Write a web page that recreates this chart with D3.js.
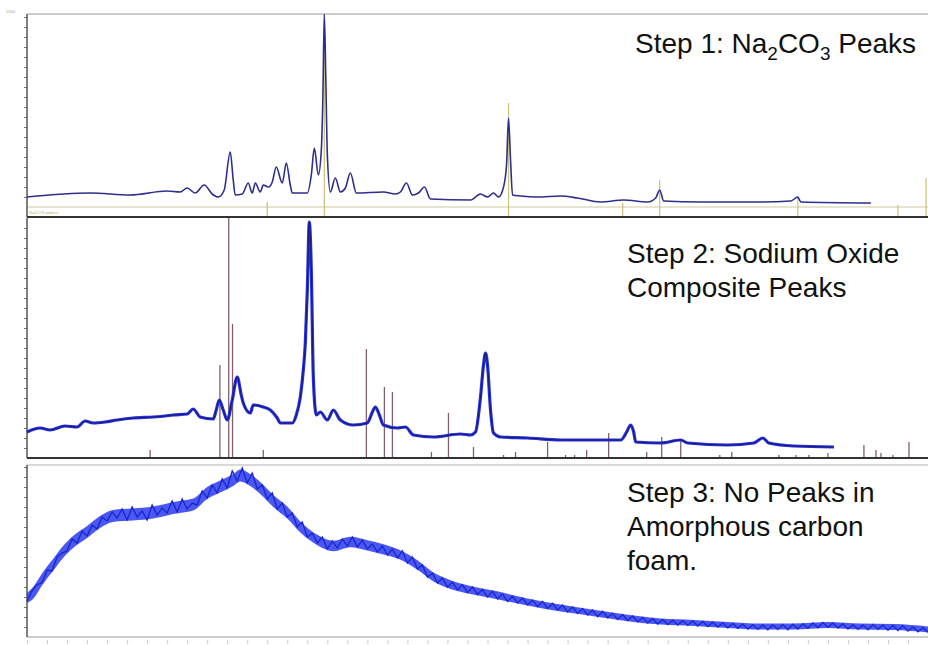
<!DOCTYPE html>
<html>
<head>
<meta charset="utf-8">
<script src="https://cdn.jsdelivr.net/npm/d3@7"></script>
<style>
  body { margin: 0; background: #fff; }
  svg { display: block; font-family: 'Liberation Sans', Arial, sans-serif; }
</style>
</head>
<body>
<div id="app"></div>
<script>
// 2-theta range of the scans (deg)
const thetaRange = [10, 100];

// Step 1 scan: [2theta, counts]
const step1Scan = [
  [10.0, 50], [16.3, 70], [20.3, 60], [24.0, 80], [25.3, 75], [26.0, 95], [26.8, 70], [27.7, 110],
  [28.5, 65], [29.1, 50], [29.7, 85], [30.3, 275], [30.6, 135], [30.8, 60], [31.5, 65], [32.1, 120],
  [32.5, 70], [32.8, 120], [33.3, 75], [33.6, 110], [34.1, 100], [34.5, 125], [34.9, 200], [35.5, 120],
  [35.9, 220], [36.3, 110], [36.5, 70], [38.0, 70], [38.4, 160], [38.7, 295], [39.1, 160], [39.4, 285],
  [39.55, 535], [39.7, 965], [39.85, 635], [40.0, 260], [40.3, 75], [40.8, 145], [41.3, 75], [41.8, 95],
  [42.3, 170], [42.9, 70], [45.6, 75], [46.8, 65], [47.3, 75], [47.9, 120], [48.5, 60], [49.1, 70],
  [49.7, 100], [50.3, 40], [54.3, 35], [55.3, 65], [56.0, 50], [56.6, 70], [57.1, 50], [57.6, 100],
  [57.9, 210], [58.1, 445], [58.3, 235], [58.5, 60], [59.3, 55], [61.0, 50], [63.3, 55], [65.0, 45],
  [67.3, 25], [69.6, 35], [72.0, 25], [72.8, 45], [73.2, 85], [73.6, 30], [77.3, 25], [83.3, 25],
  [86.3, 30], [87.0, 50], [87.3, 25], [94.3, 20]
];

// Step 1 reference pattern (Na2CO3): [2theta, counts]
const step1Ref = [
  [34.0, 25], [39.7, 965], [58.1, 520], [69.5, 20], [73.2, 135], [87.0, 50], [97.0, 10], [99.8, 145]
];

// Step 2 scan: [2theta, counts]
const step2Scan = [
  [10.0, 130], [11.3, 150], [12.3, 140], [13.8, 160], [15.0, 155], [15.8, 185], [16.6, 175], [17.8, 180],
  [19.0, 190], [20.6, 200], [22.6, 205], [23.8, 210], [24.6, 215], [26.0, 220], [26.6, 245], [27.3, 205],
  [28.6, 195], [28.9, 240], [29.2, 290], [29.6, 240], [30.0, 190], [30.5, 290], [31.0, 405], [31.4, 315],
  [31.6, 275], [32.3, 225], [32.6, 265], [33.6, 255], [34.3, 240], [35.0, 200], [35.3, 175], [36.5, 175],
  [36.9, 215], [37.3, 305], [37.6, 440], [37.8, 575], [38.0, 840], [38.2, 1180], [38.4, 940], [38.6, 405],
  [38.9, 215], [39.3, 230], [40.0, 190], [40.6, 240], [41.3, 190], [42.6, 165], [44.0, 175], [44.5, 230],
  [44.8, 255], [45.2, 215], [45.6, 165], [47.0, 150], [47.8, 155], [48.6, 115], [50.6, 105], [53.3, 120],
  [54.3, 115], [54.8, 130], [55.3, 305], [55.6, 465], [55.8, 525], [56.0, 465], [56.3, 240], [56.6, 125],
  [57.3, 105], [60.0, 100], [63.3, 90], [67.3, 90], [69.3, 90], [69.9, 130], [70.3, 165], [70.6, 130],
  [70.8, 80], [73.3, 75], [75.3, 90], [76.0, 75], [80.0, 65], [82.6, 75], [83.5, 100], [84.1, 75],
  [86.6, 60], [90.6, 55]
];

// Step 2 reference sticks (sodium oxide phases): [2theta, counts]
const step2Ref = [
  [22.3, 40], [29.27, 465], [30.15, 1200], [30.53, 670], [33.6, 40], [43.9, 545], [45.7, 355], [46.5, 330],
  [50.4, 30], [52.1, 225], [54.6, 55], [57.6, 15], [58.8, 30], [62.0, 80], [63.8, 15], [64.7, 15],
  [65.9, 40], [68.1, 125], [71.9, 30], [73.4, 105], [75.3, 90], [79.2, 15], [80.4, 30], [85.1, 15],
  [86.8, 15], [88.1, 15], [90.0, 25], [93.6, 65], [94.8, 40], [95.3, 25], [96.5, 15], [98.1, 80]
];

// Step 3 scan envelope: [2theta, counts, noise half-width]
const step3Scan = [
  [10.0, 195, 25], [10.6, 220, 30], [11.6, 295, 30], [12.6, 360, 30], [13.6, 425, 30], [14.6, 475, 30],
  [16.0, 525, 30], [17.3, 575, 30], [18.6, 605, 30], [20.6, 612, 30], [22.6, 622, 30], [24.6, 645, 30],
  [26.6, 662, 30], [28.0, 720, 30], [29.3, 752, 30], [30.6, 785, 30], [31.3, 808, 30], [32.3, 785, 30],
  [33.3, 745, 30], [34.6, 680, 30], [36.0, 622, 30], [37.3, 550, 28], [39.0, 485, 26], [40.6, 455, 26],
  [42.3, 475, 26], [44.0, 458, 26], [45.6, 438, 26], [47.3, 410, 24], [49.0, 360, 24], [50.6, 300, 22],
  [52.3, 262, 22], [54.3, 235, 20], [56.6, 212, 20], [60.0, 175, 18], [63.3, 145, 18], [66.6, 120, 16],
  [70.0, 95, 16], [73.3, 77, 15], [76.6, 70, 15], [80.0, 60, 15], [83.3, 52, 15], [86.6, 52, 15],
  [90.0, 60, 15], [93.3, 52, 15], [96.6, 50, 15], [100.0, 38, 15]
];

// Step 3 raw trace, read every half degree: [2theta, counts]
const step3Trace = [
  [10, 180], [10.5, 230], [11, 262], [11.5, 270], [12, 335], [12.5, 330], [13, 400], [13.5, 420],
  [14, 430], [14.5, 490], [15, 470], [15.5, 530], [16, 505], [16.5, 560], [17, 540], [17.5, 600],
  [18, 580], [18.5, 625], [19, 595], [19.5, 640], [20, 585], [20.5, 650], [21, 600], [21.5, 630],
  [22, 585], [22.5, 660], [23, 610], [23.5, 645], [24, 620], [24.5, 680], [25, 625], [25.5, 690],
  [26, 640], [26.5, 670], [27, 660], [27.5, 730], [28, 695], [28.5, 760], [29, 720], [29.5, 790],
  [30, 745], [30.5, 830], [31, 780], [31.5, 845], [32, 770], [32.5, 820], [33, 740], [33.5, 760],
  [34, 690], [34.5, 720], [35, 640], [35.5, 670], [36, 600], [36.5, 620], [37, 550], [37.5, 575],
  [38, 500], [38.5, 520], [39, 470], [39.5, 500], [40, 440], [40.5, 480], [41, 445], [41.5, 490],
  [42, 455], [42.5, 500], [43, 450], [43.5, 485], [44, 440], [44.5, 465], [45, 425], [45.5, 455],
  [46, 410], [46.5, 440], [47, 395], [47.5, 430], [48, 370], [48.5, 400], [49, 340], [49.5, 360],
  [50, 300], [50.5, 320], [51, 270], [51.5, 295], [52, 250], [52.5, 275], [53, 235], [53.5, 262],
  [54, 222], [54.5, 250], [55, 212], [55.5, 238], [56, 200], [56.5, 228], [57, 190], [57.5, 215],
  [58, 178], [58.5, 205], [59, 170], [59.5, 195], [60, 160], [60.5, 185], [61, 152], [61.5, 178],
  [62, 142], [62.5, 168], [63, 135], [63.5, 160], [64, 125], [64.5, 150], [65, 118], [65.5, 142],
  [66, 110], [66.5, 135], [67, 102], [67.5, 128], [68, 96], [68.5, 118], [69, 88], [69.5, 112],
  [70, 82], [70.5, 105], [71, 76], [71.5, 98], [72, 70], [72.5, 92], [73, 65], [73.5, 88],
  [74, 62], [74.5, 84], [75, 60], [75.5, 82], [76, 58], [76.5, 80], [77, 55], [77.5, 78],
  [78, 52], [78.5, 74], [79, 50], [79.5, 70], [80, 46], [80.5, 68], [81, 44], [81.5, 64],
  [82, 40], [82.5, 62], [83, 38], [83.5, 60], [84, 36], [84.5, 60], [85, 38], [85.5, 62],
  [86, 36], [86.5, 64], [87, 40], [87.5, 66], [88, 44], [88.5, 70], [89, 46], [89.5, 72],
  [90, 48], [90.5, 70], [91, 45], [91.5, 66], [92, 40], [92.5, 62], [93, 38], [93.5, 60],
  [94, 36], [94.5, 62], [95, 38], [95.5, 60], [96, 34], [96.5, 58], [97, 32], [97.5, 56],
  [98, 30], [98.5, 50], [99, 26], [99.5, 46], [100, 24]
];

const step2Label = ['Step 2: Sodium Oxide', 'Composite Peaks'];
const step3Label = ['Step 3: No Peaks in', 'Amorphous carbon', 'foam.'];

const width = 928;
const height = 645;

const svg = d3.select('#app')
  .append('svg')
  .attr('width', width)
  .attr('height', height);

svg.append('rect')
  .attr('width', width)
  .attr('height', height)
  .attr('fill', '#fff');

const x = d3.scaleLinear().domain(thetaRange).range([27, 928]);

const panels = [
  { top: 14, zero: 207, bottom: 217, yMax: 965 },
  { top: 218, zero: 458, bottom: 458, yMax: 1200 },
  { top: 465, zero: 637, bottom: 637, yMax: 860 }
];

panels.forEach(p => {
  p.y = d3.scaleLinear().domain([0, p.yMax]).range([p.zero, p.top]);
});

const [p1, p2, p3] = panels;

// frames
svg.append('line')
  .attr('x1', 27).attr('x2', width)
  .attr('y1', p1.top).attr('y2', p1.top)
  .attr('stroke', '#bbb').attr('stroke-width', 1.5);

svg.append('line')
  .attr('x1', 27).attr('x2', width)
  .attr('y1', p3.top).attr('y2', p3.top)
  .attr('stroke', '#ccc').attr('stroke-width', 1.5);

svg.append('line')
  .attr('x1', 27).attr('x2', width)
  .attr('y1', p1.zero).attr('y2', p1.zero)
  .attr('stroke', '#cdc9a0').attr('stroke-width', 1);

svg.append('line')
  .attr('x1', 27).attr('x2', width)
  .attr('y1', p3.bottom).attr('y2', p3.bottom)
  .attr('stroke', '#bbb').attr('stroke-width', 1.5);

// left axes (minor ticks only)
panels.forEach(p => {
  const g = svg.append('g')
    .attr('transform', 'translate(27,0)')
    .call(d3.axisLeft(p.y).tickValues(d3.range(50, p.yMax, 50)).tickSize(3).tickSizeOuter(0).tickFormat(''));
  g.select('.domain').remove();
  g.selectAll('.tick line').attr('stroke', '#777');
  svg.append('line')
    .attr('x1', 27).attr('x2', 27)
    .attr('y1', p.top).attr('y2', p.bottom)
    .attr('stroke', '#555').attr('stroke-width', 1.5);
});

// faint scale ticks along the very bottom
const bottomAxis = svg.append('g')
  .attr('transform', `translate(0,${p3.bottom + 3})`)
  .call(d3.axisBottom(x).ticks(45).tickSize(4).tickFormat(''));
bottomAxis.select('.domain').remove();
bottomAxis.selectAll('.tick line').attr('stroke', '#ccc');

// Step 1 reference sticks
svg.append('g')
  .selectAll('line')
  .data(step1Ref)
  .join('line')
  .attr('x1', d => x(d[0])).attr('x2', d => x(d[0]))
  .attr('y1', p1.bottom).attr('y2', d => p1.y(d[1]))
  .attr('stroke', '#c9c27a')
  .attr('stroke-width', 1.2);

// Step 1 scan
svg.append('path')
  .datum(step1Scan)
  .attr('fill', 'none')
  .attr('stroke', '#2e2e8c')
  .attr('stroke-width', 1.6)
  .attr('d', d3.line().x(d => x(d[0])).y(d => p1.y(d[1])).curve(d3.curveMonotoneX));

// Step 2 reference sticks
svg.append('g')
  .selectAll('line')
  .data(step2Ref)
  .join('line')
  .attr('x1', d => x(d[0])).attr('x2', d => x(d[0]))
  .attr('y1', p2.zero).attr('y2', d => p2.y(d[1]))
  .attr('stroke', '#80606e')
  .attr('stroke-width', 1.3);

// Step 2 scan (noise band then trace)
const line2 = d3.line().x(d => x(d[0])).y(d => p2.y(d[1])).curve(d3.curveMonotoneX);
svg.append('path')
  .datum(step2Scan)
  .attr('fill', 'none')
  .attr('stroke', '#2833d8')
  .attr('stroke-width', 3.2)
  .attr('stroke-linejoin', 'round')
  .attr('d', line2);
svg.append('path')
  .datum(step2Scan)
  .attr('fill', 'none')
  .attr('stroke', '#16167a')
  .attr('stroke-width', 1)
  .attr('d', line2);

// bottom axis of panels 1 and 2
[p1, p2].forEach(p => {
  svg.append('line')
    .attr('x1', 27).attr('x2', width)
    .attr('y1', p.bottom).attr('y2', p.bottom)
    .attr('stroke', '#333').attr('stroke-width', 2);
});

// Step 3 scan
svg.append('path')
  .datum(step3Scan)
  .attr('fill', '#2a3af0')
  .attr('fill-opacity', 0.85)
  .attr('d', d3.area()
    .x(d => x(d[0]))
    .y0(d => p3.y(d[1] - d[2]))
    .y1(d => p3.y(d[1] + d[2]))
    .curve(d3.curveMonotoneX));

svg.append('path')
  .datum(step3Trace)
  .attr('fill', 'none')
  .attr('stroke', '#1f2ee0')
  .attr('stroke-width', 1.4)
  .attr('d', d3.line().x(d => x(d[0])).y(d => p3.y(d[1])));

svg.append('path')
  .datum(step3Trace)
  .attr('fill', 'none')
  .attr('stroke', '#101060')
  .attr('stroke-width', 0.6)
  .attr('stroke-opacity', 0.35)
  .attr('d', d3.line().x(d => x(d[0])).y(d => p3.y(d[1])));

// tiny labels
svg.append('text')
  .attr('x', 6).attr('y', 13)
  .attr('font-size', 4)
  .attr('fill', '#999')
  .text('1000');

svg.append('text')
  .attr('x', 29).attr('y', 214)
  .attr('font-size', 4)
  .attr('fill', '#b8b060')
  .text('Na2CO3 pattern');

// annotations
const labelSize = 28;

const label1 = svg.append('text')
  .attr('x', 635)
  .attr('y', 53)
  .attr('font-size', labelSize)
  .attr('fill', '#111')
  .style('white-space', 'pre');
label1.append('tspan').text('Step 1: Na');
label1.append('tspan').attr('font-size', 19).attr('dy', 7).text('2');
label1.append('tspan').attr('dy', -7).text('CO');
label1.append('tspan').attr('font-size', 19).attr('dy', 7).text('3');
label1.append('tspan').attr('dy', -7).text(' Peaks');

svg.append('text')
  .attr('font-size', labelSize)
  .attr('fill', '#111')
  .selectAll('tspan')
  .data(step2Label)
  .join('tspan')
  .attr('x', 627)
  .attr('y', (d, i) => 263 + i * 34)
  .text(d => d);

svg.append('text')
  .attr('font-size', labelSize)
  .attr('fill', '#111')
  .selectAll('tspan')
  .data(step3Label)
  .join('tspan')
  .attr('x', 627)
  .attr('y', (d, i) => 502 + i * 34)
  .text(d => d);
</script>
</body>
</html>
